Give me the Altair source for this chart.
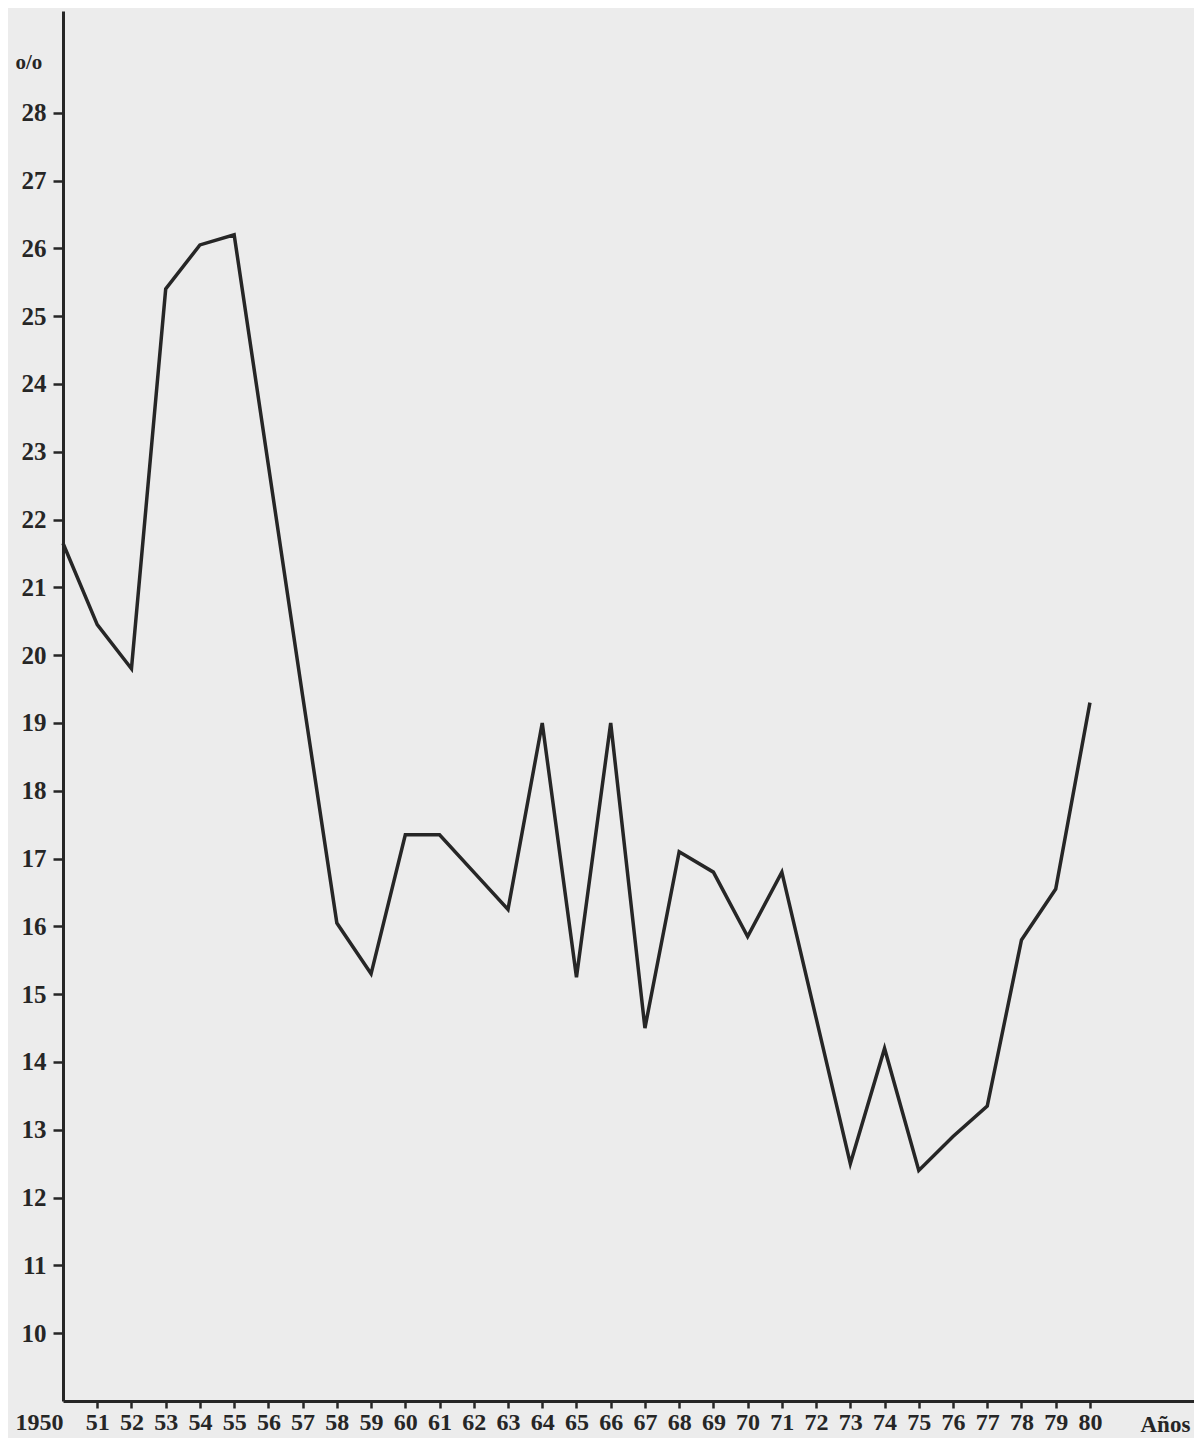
import json
import altair as alt
import pandas as pd

# ---- data ----
years = list(range(1950, 1981))
values = [21.65, 20.45, 19.8, 25.4, 26.05, 26.2, 22.8, 19.4, 16.05, 15.3,
          17.35, 17.35, 16.8, 16.25, 19.0, 15.25, 19.0, 14.5, 17.1, 16.8,
          15.85, 16.8, 14.65, 12.5, 14.2, 12.4, 12.9, 13.35, 15.8, 16.55, 19.3]
x_tick_labels = ["1950", "51", "52", "53", "54", "55", "56", "57", "58", "59",
                 "60", "61", "62", "63", "64", "65", "66", "67", "68", "69",
                 "70", "71", "72", "73", "74", "75", "76", "77", "78", "79", "80"]
y_ticks = [10, 11, 12, 13, 14, 15, 16, 17, 18, 19, 20, 21, 22, 23, 24, 25, 26, 27, 28]
y_title = "o/o"
x_title = "Años"

df = pd.DataFrame({"year": years, "value": values})

INK = "#262626"
FONT = "Liberation Serif"

x_axis = alt.Axis(
    values=years,
    labelExpr=f"{json.dumps(x_tick_labels)}[datum.value - 1950]",
    labelAlign={"condition": {"test": "datum.value == 1950", "value": "right"}, "value": "center"},
    tickColor={"condition": {"test": "datum.value == 1950", "value": "transparent"}, "value": INK},
    labelFont=FONT, labelFontSize=24, labelFontWeight="bold", labelColor=INK,
    labelBaseline="top", labelPadding=2, labelOverlap=False, labelFlush=False,
    tickSize=7, tickWidth=2.5,
    domainColor=INK, domainWidth=3,
    grid=False,
    title=x_title, titleFont=FONT, titleFontSize=23, titleFontWeight="bold",
    titleColor=INK, titleAlign="left", titleBaseline="alphabetic",
    titleX=1077, titleY=30, titleAnchor="start",
)

y_axis = alt.Axis(
    values=y_ticks,
    labelFont=FONT, labelFontSize=25, labelFontWeight="bold", labelColor=INK,
    labelPadding=7, tickSize=10, tickWidth=2.5, tickColor=INK,
    domainColor=INK, domainWidth=3, grid=False, labelFlush=False,
    title=y_title, titleFont=FONT, titleFontSize=21, titleFontWeight="bold",
    titleColor=INK, titleAngle=0, titleAlign="left", titleBaseline="middle",
    titleX=-48, titleY=51, titleAnchor="start",
)

chart = alt.Chart(df).mark_line(
    color=INK, strokeWidth=3.5, strokeJoin="miter"
).encode(
    x=alt.X("year:Q", scale=alt.Scale(domain=[1950, 1983.04], nice=False, zero=False), axis=x_axis),
    y=alt.Y("value:Q", scale=alt.Scale(domain=[9, 29.5], nice=False, zero=False), axis=y_axis),
).properties(
    width=1131,
    height=1390,
    autosize=alt.AutoSizeParams(type="none"),
    padding={"left": 55, "top": 3, "right": 0, "bottom": 37},
    background="#ececec",
).configure_view(strokeWidth=0)

chart.save("out.html", embed_options={"renderer": "svg", "actions": False})
